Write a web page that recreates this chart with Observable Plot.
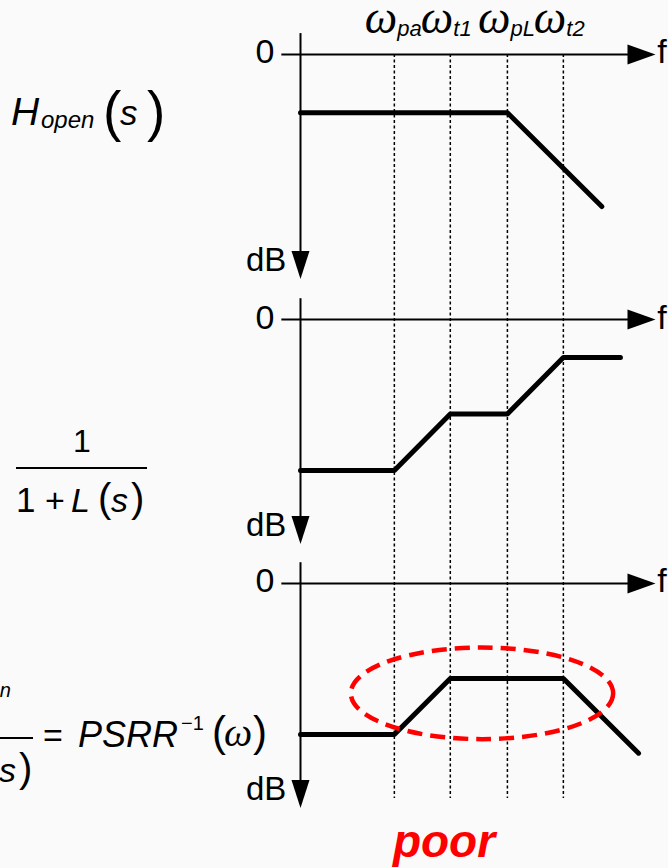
<!DOCTYPE html>
<html>
<head>
<meta charset="utf-8">
<script src="https://cdn.jsdelivr.net/npm/d3@7"></script>
<script src="https://cdn.jsdelivr.net/npm/@observablehq/plot@0.6"></script>
<style>
  html, body { margin: 0; padding: 0; background: #fafafa; overflow: hidden; }
  #chart { position: relative; width: 668px; height: 868px; }
  #chart svg { display: block; overflow: hidden; }
</style>
</head>
<body>
<div id="chart"></div>
<script>
// Corner frequencies (decades to the right of the vertical axis)
const cornerNames = ["pa", "t1", "pL", "t2"];
const cornerFreq = [1.66, 2.65, 3.66, 4.65];

// Asymptotic magnitude of each transfer function, level relative to its own 0 dB line
const hOpenFreq = [0, 3.66, 5.33];
const hOpenLevel = [-1.03, -1.03, -2.69];
const loopFreq = [0, 1.66, 2.65, 3.66, 4.65, 5.66];
const loopLevel = [-2.67, -2.67, -1.67, -1.67, -0.67, -0.67];
const psrrFreq = [0, 1.66, 2.65, 4.65, 5.98];
const psrrLevel = [-2.67, -2.67, -1.68, -1.68, -3.0];

// Region of the PSRR curve that is marked as poor: centre and half-axes
const poorCenter = [3.22, -1.95];
const poorRadius = [2.32, 0.81];

// Page layout
const W = 668, H = 868;
const axisLeftPx = 300, axisTipPx = 655;
const fMax = 6.28;                            // frequency at the arrow tips
const unit = (axisTipPx - axisLeftPx) / fMax; // px per decade (same on both axes)
const topZeroPx = 54;
const yTop = topZeroPx / unit;
const yBottom = yTop - H / unit;
const panelOffset = [0, -4.69, -9.36];        // 0 dB line of each panel
const levelMin = -3.97;                       // bottom of each dB arrow

const panels = panelOffset.map((offset, i) => ({panel: i, offset}));
const curves = [
  [hOpenFreq, hOpenLevel],
  [loopFreq, loopLevel],
  [psrrFreq, psrrLevel]
].flatMap(([fs, ls], i) => fs.map((f, j) => ({panel: i, f, y: panelOffset[i] + ls[j]})));

const corners = cornerFreq.map((f, i) => ({f, name: cornerNames[i]}));

// Filled arrowheads, tip at the anchor point
const arrowRight = {draw(ctx) { ctx.moveTo(0, 0); ctx.lineTo(-28, -10); ctx.lineTo(-28, 10); ctx.closePath(); }};
const arrowDown = {draw(ctx) { ctx.moveTo(0, 0); ctx.lineTo(-9, -28); ctx.lineTo(9, -28); ctx.closePath(); }};

const sans = "'Liberation Sans', Arial, sans-serif";
const serif = "'Liberation Serif', 'Times New Roman', serif";
const poorOffset = panelOffset[2];

const chart = Plot.plot({
  width: W,
  height: H,
  marginLeft: axisLeftPx,
  marginRight: W - axisTipPx,
  marginTop: 0,
  marginBottom: 0,
  x: {domain: [0, fMax], axis: null},
  y: {domain: [yBottom, yTop], axis: null},
  style: {background: "transparent", fontFamily: sans, color: "black"},
  marks: [
    // corner-frequency guides through all three panels
    Plot.ruleX(corners, {x: "f", y1: panelOffset[0], y2: panelOffset[2] - 3.8,
      stroke: "black", strokeWidth: 1.5, strokeDasharray: "3,2.5"}),
    // frequency axes
    Plot.ruleY(panels, {y: "offset", x1: -0.33, x2: fMax - 0.3, stroke: "black", strokeWidth: 2}),
    Plot.dot(panels, {x: () => fMax, y: "offset", symbol: arrowRight, fill: "black", stroke: null}),
    // magnitude axes
    Plot.ruleX(panels, {x: () => 0, y1: d => d.offset + 0.37, y2: d => d.offset + levelMin + 0.3,
      stroke: "black", strokeWidth: 2}),
    Plot.dot(panels, {x: () => 0, y: d => d.offset + levelMin, symbol: arrowDown, fill: "black", stroke: null}),
    // axis labels
    Plot.text(panels, {x: () => -0.46, y: "offset", text: () => "0", textAnchor: "end",
      lineAnchor: "middle", dy: -2, fontSize: 34, fill: "black"}),
    Plot.text(panels, {x: () => fMax + 0.03, y: "offset", text: () => "f", textAnchor: "start",
      lineAnchor: "middle", dy: -2, fontSize: 34, fill: "black"}),
    Plot.text(panels, {x: () => -0.25, y: d => d.offset + levelMin, text: () => "dB", textAnchor: "end",
      lineAnchor: "bottom", dy: -8, fontSize: 33, fill: "black"}),
    // corner-frequency names
    Plot.text(corners, {x: "f", y: () => panelOffset[0], text: () => "ω", textAnchor: "end",
      lineAnchor: "bottom", dx: 3, dy: -22, fontSize: 46, fontStyle: "italic", fontFamily: serif, fill: "black"}),
    Plot.text(corners, {x: "f", y: () => panelOffset[0], text: "name", textAnchor: "start",
      lineAnchor: "bottom", dx: 3, dy: -19, fontSize: 22, fontStyle: "italic", fill: "black"}),
    // magnitude curves
    Plot.line(curves, {x: "f", y: "y", z: "panel", stroke: "black", strokeWidth: 5,
      strokeLinecap: "round", strokeLinejoin: "round"}),
    // ellipse around the poor region
    (index, scales) => {
      const x = scales.x, y = scales.y;
      const cx = x(poorCenter[0]), cy = y(poorOffset + poorCenter[1]);
      const rx = x(poorCenter[0] + poorRadius[0]) - cx;
      const ry = y(poorOffset + poorCenter[1] - poorRadius[1]) - cy;
      return d3.create("svg:ellipse")
        .attr("cx", cx).attr("cy", cy).attr("rx", rx).attr("ry", ry)
        .attr("fill", "none").attr("stroke", "#ff0000").attr("stroke-width", 4.5)
        .attr("stroke-dasharray", "15,8").node();
    }
  ]
});

document.getElementById("chart").appendChild(chart);

// Transfer-function labels on the left
const g = d3.select(chart).append("g")
  .attr("fill", "black").attr("font-family", sans).attr("text-anchor", "start");
function txt(x, y, s, size, o = {}) {
  const t = g.append("text").attr("x", x).attr("y", y).attr("font-size", size).text(s);
  if (o.italic) t.attr("font-style", "italic");
  if (o.bold) t.attr("font-weight", "bold");
  if (o.serif) t.attr("font-family", serif);
  if (o.anchor) t.attr("text-anchor", o.anchor);
  if (o.fill) t.attr("fill", o.fill);
  return t;
}
function bar(x1, x2, y) {
  g.append("line").attr("x1", x1).attr("x2", x2).attr("y1", y).attr("y2", y)
    .attr("stroke", "black").attr("stroke-width", 2);
}
function denominator(dx, base) {
  txt(16 + dx, base, "1", 35);
  txt(45 + dx, base, "+", 34);
  txt(71 + dx, base, "L", 34, {italic: true});
  txt(98 + dx, base, "(", 40);
  txt(111 + dx, base, "s", 34, {italic: true});
  txt(131 + dx, base, ")", 40);
}

// H_open(s)
txt(11, 125, "H", 39, {italic: true});
txt(41, 128, "open", 24, {italic: true});
txt(103, 130, "(", 55);
txt(120, 125, "s", 35, {italic: true});
txt(147, 130, ")", 55);

// 1 / (1 + L(s))
txt(82, 452, "1", 32, {anchor: "middle"});
bar(16, 147, 468);
denominator(0, 512);

// H_open / (1 + L(s)) = PSRR^-1(ω)
txt(-34, 694, "H", 34, {italic: true, anchor: "end"});
txt(11, 697, "open", 20, {italic: true, anchor: "end"});
bar(-96, 33, 738);
denominator(-112, 782);
txt(43, 747, "=", 34);
txt(78, 747, "PSRR", 36, {italic: true});
txt(181, 730, "−1", 20);
txt(212, 746, "(", 42);
txt(224, 746, "ω", 40, {italic: true, serif: true});
txt(253, 746, ")", 42);

// verdict
txt(444, 857, "poor", 46, {italic: true, bold: true, anchor: "middle", fill: "#ff0000"});
</script>
</body>
</html>
